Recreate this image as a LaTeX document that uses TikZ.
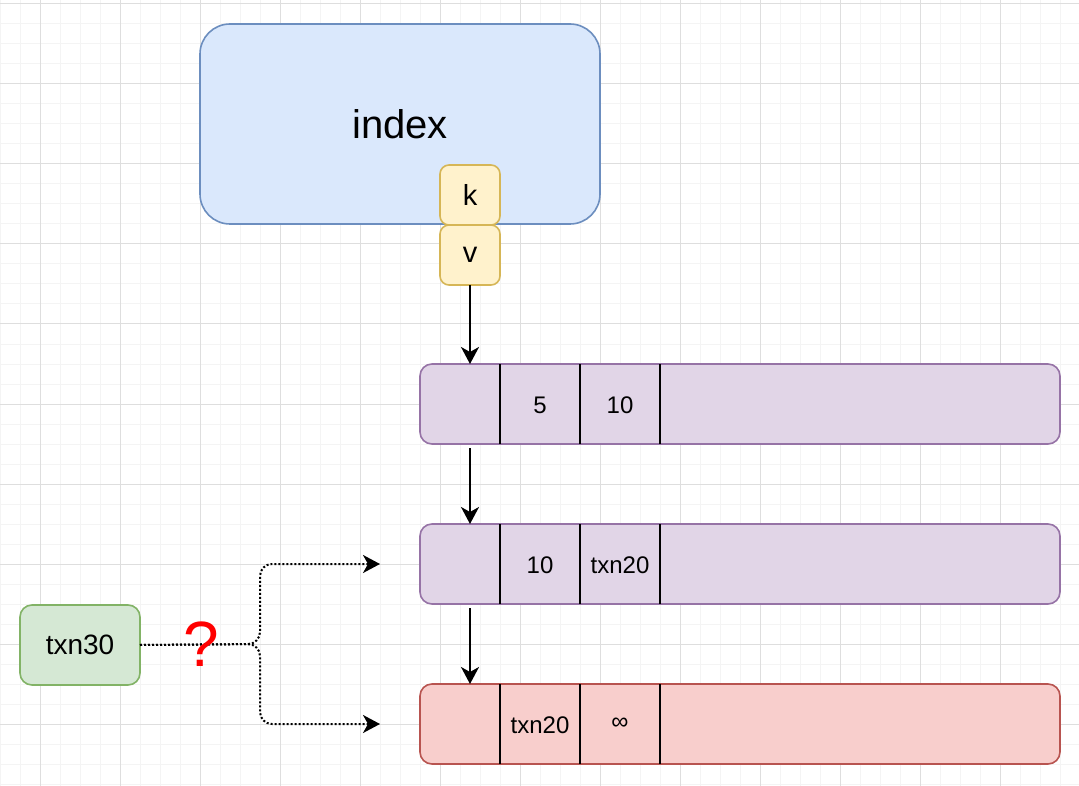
\documentclass[tikz,border=0pt]{standalone}
\usepackage{fontspec}
\setmainfont{Liberation Sans}
\usetikzlibrary{arrows.meta}
\definecolor{bluefill}{HTML}{DAE8FC}
\definecolor{bluedraw}{HTML}{6C8EBF}
\definecolor{yelfill}{HTML}{FFF2CC}
\definecolor{yeldraw}{HTML}{D6B656}
\definecolor{purfill}{HTML}{E1D5E7}
\definecolor{purdraw}{HTML}{9673A6}
\definecolor{redfill}{HTML}{F8CECC}
\definecolor{reddraw}{HTML}{B85450}
\definecolor{grnfill}{HTML}{D5E8D4}
\definecolor{grndraw}{HTML}{82B366}
\definecolor{minorgrid}{HTML}{F4F4F4}
\definecolor{majorgrid}{HTML}{DEDEDE}
\definecolor{qred}{HTML}{FF0000}
\begin{document}
\begin{tikzpicture}[x=1pt,y=-1pt,
  boxbase/.style={draw, line width=1.6pt, inner sep=0pt, outer sep=0pt, align=center},
  indexbox/.style={boxbase, fill=bluefill, draw=bluedraw, rounded corners=30pt,
    minimum width=400pt, minimum height=200pt, font=\fontsize{40}{48}\selectfont},
  kvbox/.style={boxbase, fill=yelfill, draw=yeldraw, rounded corners=9pt,
    minimum width=60pt, minimum height=60pt, font=\fontsize{29}{34}\selectfont},
  recbox/.style={boxbase, rounded corners=12pt, minimum width=640pt, minimum height=80pt},
  purrec/.style={recbox, fill=purfill, draw=purdraw},
  redrec/.style={recbox, fill=redfill, draw=reddraw},
  txnbox/.style={boxbase, fill=grnfill, draw=grndraw, rounded corners=12pt,
    minimum width=120pt, minimum height=80pt, font=\fontsize{28}{34}\selectfont},
  celltext/.style={inner sep=0pt, font=\fontsize{24}{29}\selectfont},
  divider/.style={line width=2pt, black},
  arr/.style={line width=2pt, black, -{Stealth[length=17pt, width=18pt, inset=5pt]}},
  dotarr/.style={line width=2pt, black, dash pattern=on 2pt off 2pt, rounded corners=12pt,
    -{Stealth[length=17pt, width=18pt, inset=5pt]}},
]
\useasboundingbox (0,0) rectangle (1079,786);
\fill[white] (0,0) rectangle (1079,786);
% grid
\foreach \x in {0,20,...,1079} \draw[minorgrid, line width=1pt] (\x,0) -- (\x,786);
\foreach \y in {4,24,...,786} \draw[minorgrid, line width=1pt] (0,\y) -- (1079,\y);
\foreach \x in {40,120,...,1079} \draw[majorgrid, line width=1pt] (\x,0) -- (\x,786);
\foreach \y in {4,84,...,786} \draw[majorgrid, line width=1pt] (0,\y) -- (1079,\y);

% index
\node[indexbox] (index) at (400,124) {index};
\node[kvbox] (k) at (470,195) {k};
\node[kvbox] (v) at (470,255) {v};

% records
\node[purrec] (rec1) at (740,404) {};
\node[purrec] (rec2) at (740,564) {};
\node[redrec] (rec3) at (740,724) {};
\foreach \r in {rec1,rec2,rec3}{
  \foreach \dx in {80,160,240}{
    \draw[divider] ([xshift=\dx pt]\r.north west) -- ([xshift=\dx pt]\r.south west);
  }
}
\node[celltext] (r1a) at (540,405) {5};
\node[celltext] (r1b) at (620,405) {10};
\node[celltext] (r2a) at (540,565) {10};
\node[celltext] (r2b) at (620,565) {txn20};
\node[celltext] (r3a) at (540,725) {txn20};
\node[celltext] (r3b) at (620,724) {∞};

% vertical arrows
\draw[arr] (v.south) -- ([xshift=50pt]rec1.north west);
\draw[arr] ([xshift=50pt,yshift=-4pt]rec1.south west) -- ([xshift=50pt]rec2.north west);
\draw[arr] ([xshift=50pt,yshift=-4pt]rec2.south west) -- ([xshift=50pt]rec3.north west);

% txn30
\node[txnbox] (txn30) at (80,645) {txn30};
\coordinate (uptgt) at (380,564);
\coordinate (dntgt) at (380,724);
\draw[dotarr] (txn30.east) -- (260,644) |- (uptgt);
\draw[dotarr] (txn30.east) -- (260,644) |- (dntgt);
\node[inner sep=0pt, text=qred, font=\fontsize{64}{74}\selectfont] (q) at (201,644) {?};
\end{tikzpicture}
\end{document}
